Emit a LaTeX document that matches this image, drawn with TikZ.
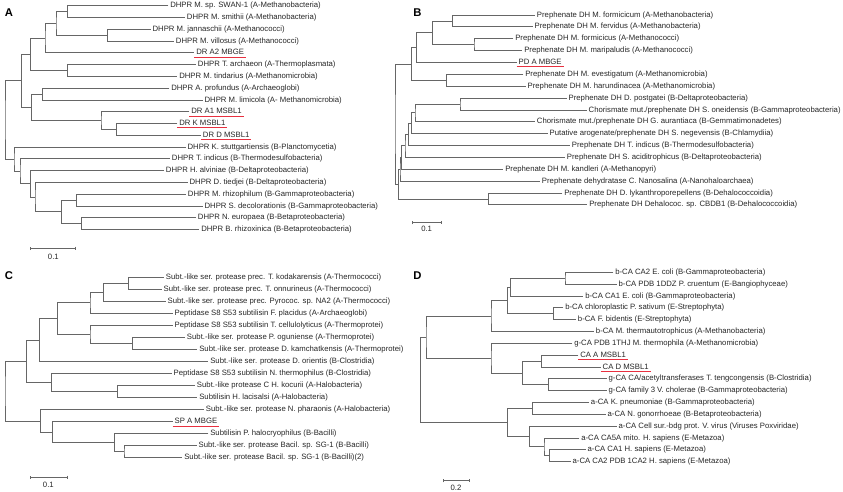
\documentclass[tikz,border=0pt]{standalone}
\usepackage{fontspec}
\setmainfont{Liberation Sans}
\usetikzlibrary{arrows.meta}
\definecolor{branchgray}{HTML}{666666}
\definecolor{hitred}{HTML}{E8303F}

\begin{document}
\begin{tikzpicture}
[
x=0.01cm,y=-0.01cm,
br/.style={branchgray,line width=0.7pt},
leaf/.style={anchor=west,inner xsep=1.5pt,inner ysep=0.4pt,text height=5pt,
  text depth=1.4pt,font=\fontsize{6.6}{7.5}\selectfont,text=black!85},
uline/.style={draw=hitred,line width=0.9pt},
panel/.style={font=\fontsize{9.6}{10}\selectfont\bfseries},
scalebar/.style={branchgray,line width=0.7pt,{Bar[width=3pt]}-{Bar[width=3pt]}},
barlabel/.style={font=\fontsize{6.6}{7.5}\selectfont,text=black!85}
]
\useasboundingbox (0,0) rectangle (2529,1476);

% panel A
\node[panel] (labA) at (27,37) {A};
\foreach \x/\t [count=\i from 0] in {
  505/{DHPR M. sp. SWAN-1 (A-Methanobacteria)},
  555/{DHPR M. smithii (A-Methanobacteria)},
  452/{DHPR M. jannaschii (A-Methanococci)},
  522/{DHPR M. villosus (A-Methanococci)},
  583/{DR A2 MBGE},
  588/{DHPR T. archaeon (A-Thermoplasmata)},
  532/{DHPR M. tindarius (A-Methanomicrobia)},
  508/{DHPR A. profundus (A-Archaeoglobi)},
  608/{DHPR M. limicola (A- Methanomicrobia)},
  568/{DR A1 MSBL1},
  532/{DR K MSBL1},
  603/{DR D MSBL1},
  557/{DHPR K. stuttgartiensis (B-Planctomycetia)},
  510/{DHPR T. indicus (B-Thermodesulfobacteria)},
  492/{DHPR H. alviniae (B-Deltaproteobacteria)},
  563/{DHPR D. tiedjei (B-Deltaproteobacteria)},
  558/{DHPR M. rhizophilum (B-Gammaproteobacteria)},
  608/{DHPR S. decolorationis (B-Gammaproteobacteria)},
  588/{DHPR N. europaea (B-Betaproteobacteria)},
  598/{DHPR B. rhizoxinica (B-Betaproteobacteria)}}
  \node[leaf] (a\i) at (\x,{17+35.35*\i}) {\t};

\coordinate (A1) at (203,34.7);
\coordinate (A2) at (322,105.4);
\coordinate (A3) at (168,70);
\coordinate (A4) at (135,114.2);
\coordinate (A5) at (203,211.4);
\coordinate (A6) at (92,162.8);
\coordinate (A7) at (128,282.1);
\coordinate (A8) at (350,388.2);
\coordinate (A9) at (303,361.7);
\coordinate (A10) at (95,321.9);
\coordinate (A11) at (65,242.4);
\coordinate (A12) at (230,600.3);
\coordinate (A13) at (245,671);
\coordinate (A14) at (185,635.6);
\coordinate (A15) at (105,591.4);
\coordinate (A16) at (92,551.7);
\coordinate (A17) at (60,514.1);
\coordinate (A18) at (42,477.6);
\coordinate (A19) at (15,360);
\foreach \n/\p/\q in {A1/a0.west/a1.west, A2/a2.west/a3.west, A3/A1/A2,
  A4/A3/a4.west, A5/a5.west/a6.west, A6/A4/A5, A7/a7.west/a8.west,
  A8/a10.west/a11.west, A9/a9.west/A8, A10/A7/A9, A11/A6/A10,
  A12/a16.west/a17.west, A13/a18.west/a19.west, A14/A12/A13,
  A15/a15.west/A14, A16/a14.west/A15, A17/a13.west/A16,
  A18/a12.west/A17, A19/A11/A18}
  \draw[br] (\p) -| (\n) |- (\q);
\foreach \n in {a4,a9,a10,a11}
  \draw[uline] (\n.south west) -- (\n.south east);

\coordinate (sa0) at (90,745);
\coordinate (sa1) at (228,745);
\draw[scalebar] (sa0) -- (sa1);
\node[barlabel] (lsa) at (160,770) {0.1};

% panel B
\begin{scope}[shift={(1260,0)}]
\node[panel] (labB) at (-8,37) {B};
\foreach \x/\t [count=\i from 0] in {
  345/{Prephenate DH M. formicicum (A-Methanobacteria)},
  338/{Prephenate DH M. fervidus (A-Methanobacteria)},
  280/{Prephenate DH M. formicicus (A-Methanococci)},
  307/{Prephenate DH M. maripaludis (A-Methanococci)},
  290/{PD A MBGE},
  310/{Prephenate DH M. evestigatum (A-Methanomicrobia)},
  317/{Prephenate DH M. harundinacea (A-Methanomicrobia)},
  440/{Prephenate DH D. postgatei (B-Deltaproteobacteria)},
  500/{Chorismate mut./prephenate DH S. oneidensis (B-Gammaproteobacteria)},
  345/{Chorismate mut./prephenate DH G. aurantiaca (B-Gemmatimonadetes)},
  383/{Putative arogenate/prephenate DH S. negevensis (B-Chlamydiia)},
  450/{Prephenate DH T. indicus (B-Thermodesulfobacteria)},
  435/{Prephenate DH S. aciditrophicus (B-Deltaproteobacteria)},
  250/{Prephenate DH M. kandleri (A-Methanopyri)},
  360/{Prephenate dehydratase C. Nanosalina (A-Nanohaloarchaea)},
  427/{Prephenate DH D. lykanthroporepellens (B-Dehalococcoidia)},
  502/{Prephenate DH Dehalococ. sp. CBDB1 (B-Dehalococcoidia)}}
  \node[leaf] (b\i) at (\x,{45+35.6*\i}) {\t};

\coordinate (B1) at (97,62.8);
\coordinate (B2) at (162,134);
\coordinate (B3) at (37,98.4);
\coordinate (B4) at (80,240.8);
\coordinate (B5) at (120,312);
\coordinate (B6) at (205,596.8);
\coordinate (B7) at (-10,143);
\coordinate (B8) at (-25,191.9);
\coordinate (B9) at (-15,338.7);
\coordinate (B10) at (-25,369.9);
\coordinate (B11) at (-35,403.2);
\coordinate (B12) at (-45,437.7);
\coordinate (B13) at (-55,472.8);
\coordinate (B14) at (-60,508);
\coordinate (B15) at (-65,552.4);
\coordinate (B16) at (-75,372);
\foreach \n/\p/\q in {B1/b0.west/b1.west, B2/b2.west/b3.west, B3/B1/B2,
  B4/b5.west/b6.west, B5/b7.west/b8.west, B6/b15.west/b16.west,
  B7/B3/b4.west, B8/B7/B4, B9/B5/b9.west, B10/B9/b10.west,
  B11/B10/b11.west, B12/B11/b12.west, B13/B12/b13.west,
  B14/B13/b14.west, B15/B14/B6, B16/B8/B15}
  \draw[br] (\p) -| (\n) |- (\q);
\draw[uline] (b4.south west) -- (b4.south east);

\coordinate (sb0) at (-25,668);
\coordinate (sb1) at (65,668);
\draw[scalebar] (sb0) -- (sb1);
\node[barlabel] (lsb) at (20,688) {0.1};
\end{scope}

% panel C
\node[panel] (labC) at (27,828) {C};
\foreach \x/\t [count=\i from 0] in {
  492/{Subt.-like ser. protease prec. T. kodakarensis (A-Thermococci)},
  485/{Subt.-like ser. protease prec. T. onnurineus (A-Thermococci)},
  497/{Subt.-like ser. protease prec. Pyrococ. sp. NA2 (A-Thermococci)},
  518/{Peptidase S8 S53 subtilisin F. placidus (A-Archaeoglobi)},
  518/{Peptidase S8 S53 subtilisin T. cellulolyticus (A-Thermoprotei)},
  555/{Subt.-like ser. protease P. oguniense (A-Thermoprotei)},
  592/{Subt.-like ser. protease D. kamchatkensis (A-Thermoprotei)},
  625/{Subt.-like ser. protease D. orientis (B-Clostridia)},
  515/{Peptidase S8 S53 subtilisin N. thermophilus (B-Clostridia)},
  585/{Subt.-like protease C H. kocurii (A-Halobacteria)},
  592/{Subtilisin H. lacisalsi (A-Halobacteria)},
  612/{Subt.-like ser. protease N. pharaonis (A-Halobacteria)},
  518/{SP A MBGE},
  625/{Subtilisin P. halocryophilus (B-Bacilli)},
  590/{Subt.-like ser. protease Bacil. sp. SG-1 (B-Bacilli)},
  547/{Subt.-like ser. protease Bacil. sp. SG-1 (B-Bacilli)(2)}}
  \node[leaf] (c\i) at (\x,{832+36.1*\i}) {\t};

\coordinate (C1) at (385,850.1);
\coordinate (C2) at (310,877.1);
\coordinate (C3) at (270,908.7);
\coordinate (C4) at (397,1030.6);
\coordinate (C5) at (270,1003.5);
\coordinate (C6) at (173,956.1);
\coordinate (C7) at (118,1020.4);
\coordinate (C8) at (352,1175);
\coordinate (C9) at (155,1147.9);
\coordinate (C10) at (80,1084.2);
\coordinate (C11) at (372,1355.5);
\coordinate (C12) at (343,1328.4);
\coordinate (C13) at (158,1296.8);
\coordinate (C14) at (122,1263);
\coordinate (C15) at (15,1173.6);
\foreach \n/\p/\q in {C1/c0.west/c1.west, C2/C1/c2.west, C3/C2/c3.west,
  C4/c5.west/c6.west, C5/c4.west/C4, C6/C3/C5, C7/C6/c7.west,
  C8/c9.west/c10.west, C9/c8.west/C8, C10/C7/C9,
  C11/c14.west/c15.west, C12/c13.west/C11, C13/c12.west/C12,
  C14/c11.west/C13, C15/C10/C14}
  \draw[br] (\p) -| (\n) |- (\q);
\draw[uline] (c12.south west) -- (c12.south east);

\coordinate (sc0) at (90,1432);
\coordinate (sc1) at (203,1432);
\draw[scalebar] (sc0) -- (sc1);
\node[barlabel] (lsc) at (145,1455) {0.1};

% panel D
\begin{scope}[shift={(1260,0)}]
\node[panel] (labD) at (-8,828) {D};
\foreach \x/\t [count=\i from 0] in {
  580/{b-CA CA2 E. coli (B-Gammaproteobacteria)},
  590/{b-CA PDB 1DDZ P. cruentum (E-Bangiophyceae)},
  490/{b-CA CA1 E. coli (B-Gammaproteobacteria)},
  430/{b-CA chloroplastic P. sativum (E-Streptophyta)},
  468/{b-CA F. bidentis (E-Streptophyta)},
  522/{b-CA M. thermautotrophicus (A-Methanobacteria)},
  457/{g-CA PDB 1THJ M. thermophila (A-Methanomicrobia)},
  475/{CA A MSBL1},
  542/{CA D MSBL1},
  560/{g-CA CA/acetyltransferases T. tengcongensis (B-Clostridia)},
  560/{g-CA family 3 V. cholerae (B-Gammaproteobacteria)},
  507/{a-CA K. pneumoniae (B-Gammaproteobacteria)},
  557/{a-CA N. gonorrhoeae (B-Betaproteobacteria)},
  590/{a-CA Cell sur.-bdg prot. V. virus (Viruses Poxviridae)},
  478/{a-CA CA5A mito. H. sapiens (E-Metazoa)},
  497/{a-CA CA1 H. sapiens (E-Metazoa)},
  452/{a-CA CA2 PDB 1CA2 H. sapiens (E-Metazoa)}}
  \node[leaf] (d\i) at (\x,{817+35.5*\i}) {\t};

\coordinate (D1) at (435,834.8);
\coordinate (D2) at (272,861.4);
\coordinate (D3) at (400,941.3);
\coordinate (D4) at (262,901.3);
\coordinate (D5) at (213,947.9);
\coordinate (D6) at (365,1083.3);
\coordinate (D7) at (385,1154.3);
\coordinate (D8) at (307,1118.8);
\coordinate (D9) at (213,1074.4);
\coordinate (D10) at (18,1011.2);
\coordinate (D11) at (338,1225.3);
\coordinate (D12) at (388,1367.3);
\coordinate (D13) at (372,1340.6);
\coordinate (D14) at (328,1309.6);
\coordinate (D15) at (262,1267.3);
\coordinate (D16) at (2,1139.2);
\foreach \n/\p/\q in {D1/d0.west/d1.west, D2/D1/d2.west, D3/d3.west/d4.west,
  D4/D2/D3, D5/D4/d5.west, D6/d7.west/d8.west, D7/d9.west/d10.west,
  D8/D6/D7, D9/d6.west/D8, D10/D5/D9, D11/d11.west/d12.west,
  D12/d15.west/d16.west, D13/d14.west/D12, D14/d13.west/D13,
  D15/D11/D14, D16/D10/D15}
  \draw[br] (\p) -| (\n) |- (\q);
\foreach \n in {d7,d8}
  \draw[uline] (\n.south west) -- (\n.south east);

\coordinate (sd0) at (68,1442);
\coordinate (sd1) at (150,1442);
\draw[scalebar] (sd0) -- (sd1);
\node[barlabel] (lsd) at (108,1463) {0.2};
\end{scope}

\end{tikzpicture}
\end{document}
